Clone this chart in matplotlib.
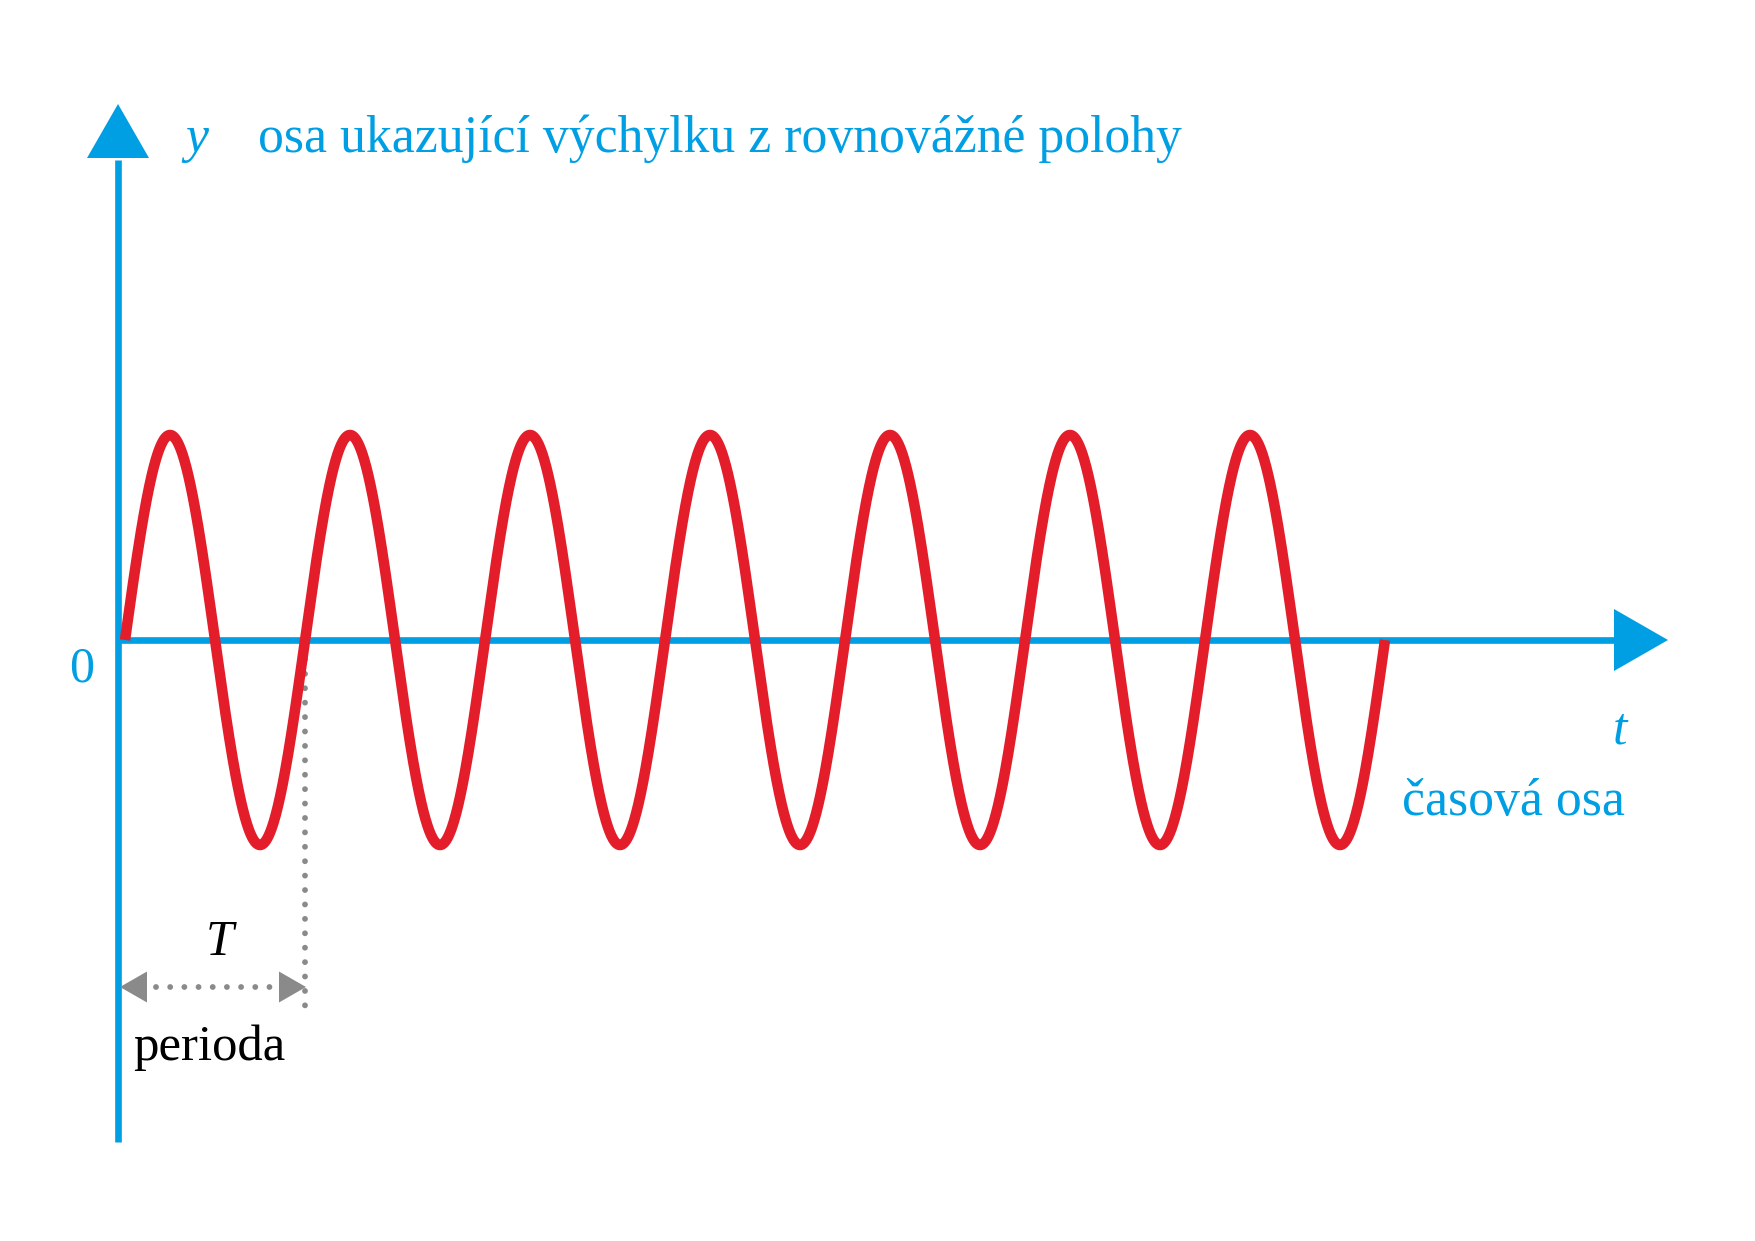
import numpy as np
import matplotlib.pyplot as plt
from matplotlib.patches import Polygon

plt.rcParams['font.family'] = ['Liberation Serif', 'DejaVu Serif']

# sinusovka: perioda T, amplituda A, pocet period
T = 1.0
A = 1.0
n_periods = 7
t = np.linspace(0, n_periods * T, 3000)
y = A * np.sin(2 * np.pi * t / T)

y_name = 'y'
y_label = 'osa ukazující výchylku z rovnovážné polohy'
t_name = 't'
t_label = 'časová osa'
zero_label = '0'
period_name = 'T'
period_label = 'perioda'

blue = '#009FE3'
red = '#E31E2A'
gray = '#8A8A8A'

# rozlozeni v pixelech (1755 x 1241)
W, H = 1755, 1241
x0, y0 = 125, 640          # pocatek sinusovky
px_T, px_A = 180.0, 205.0  # pixely na periodu / amplitudu

fig = plt.figure(figsize=(W / 100, H / 100), dpi=100)
ax = fig.add_axes([0, 0, 1, 1])
ax.set_xlim(-x0 / px_T * T, (W - x0) / px_T * T)
ax.set_ylim(-(H - y0) / px_A * A, y0 / px_A * A)
ax.axis('off')


def d(px, py):
    # pixel -> data
    return (px - x0) / px_T * T, (y0 - py) / px_A * A


def head(tip, base_c, half, horiz, color):
    tx, ty = d(*tip)
    bx, by = d(*base_c)
    if horiz:
        h = half / px_A * A
        pts = [(tx, ty), (bx, by + h), (bx, by - h)]
    else:
        h = half / px_T * T
        pts = [(tx, ty), (bx + h, by), (bx - h, by)]
    ax.add_patch(Polygon(pts, closed=True, color=color, lw=0, zorder=3))


# osy
ax_x = d(118, 0)[0]
ax.plot([ax_x, ax_x], [d(0, 1142)[1], d(0, 160)[1]], color=blue, lw=4.8,
        solid_capstyle='butt', zorder=2)
head((118, 104), (118, 158), 31, False, blue)
ax.plot([ax_x, d(1616, 0)[0]], [0, 0], color=blue, lw=4.8,
        solid_capstyle='butt', zorder=2)
head((1668, 640), (1614, 640), 31, True, blue)

# sinusovka
ax.plot(t, y, color=red, lw=7.6, solid_capstyle='butt', solid_joinstyle='round', zorder=4)

# perioda
ax.plot([T, T], [d(0, 645)[1], d(0, 1006)[1]], color=gray, lw=4.2,
        linestyle=(0, (0.001, 2.47)), dash_capstyle='round', zorder=3)
ya = d(0, 987)[1]
ax.plot([d(156, 0)[0], d(271, 0)[0]], [ya, ya], color=gray, lw=4.2,
        linestyle=(0, (0.001, 2.43)), dash_capstyle='round', zorder=3)
head((120, 987), (147, 987), 15.5, True, gray)
head((306, 987), (279, 987), 15.5, True, gray)

# popisky
fs = 37.3
ax.text(*d(185, 152), y_name, color=blue, fontsize=fs, fontstyle='italic',
        ha='left', va='baseline')
ax.text(*d(258, 152), y_label, color=blue, fontsize=fs, ha='left', va='baseline')
ax.text(*d(82, 682), zero_label, color=blue, fontsize=36, ha='center', va='baseline')
ax.text(*d(1620, 743), t_name, color=blue, fontsize=fs, fontstyle='italic',
        ha='center', va='baseline')
ax.text(*d(1402, 815), t_label, color=blue, fontsize=fs, ha='left', va='baseline')
ax.text(*d(220, 955), period_name, color='black', fontsize=36, fontstyle='italic',
        ha='center', va='baseline')
ax.text(*d(133, 1060), period_label, color='black', fontsize=36.5, ha='left',
        va='baseline')

fig.savefig('out.png', dpi=100)
